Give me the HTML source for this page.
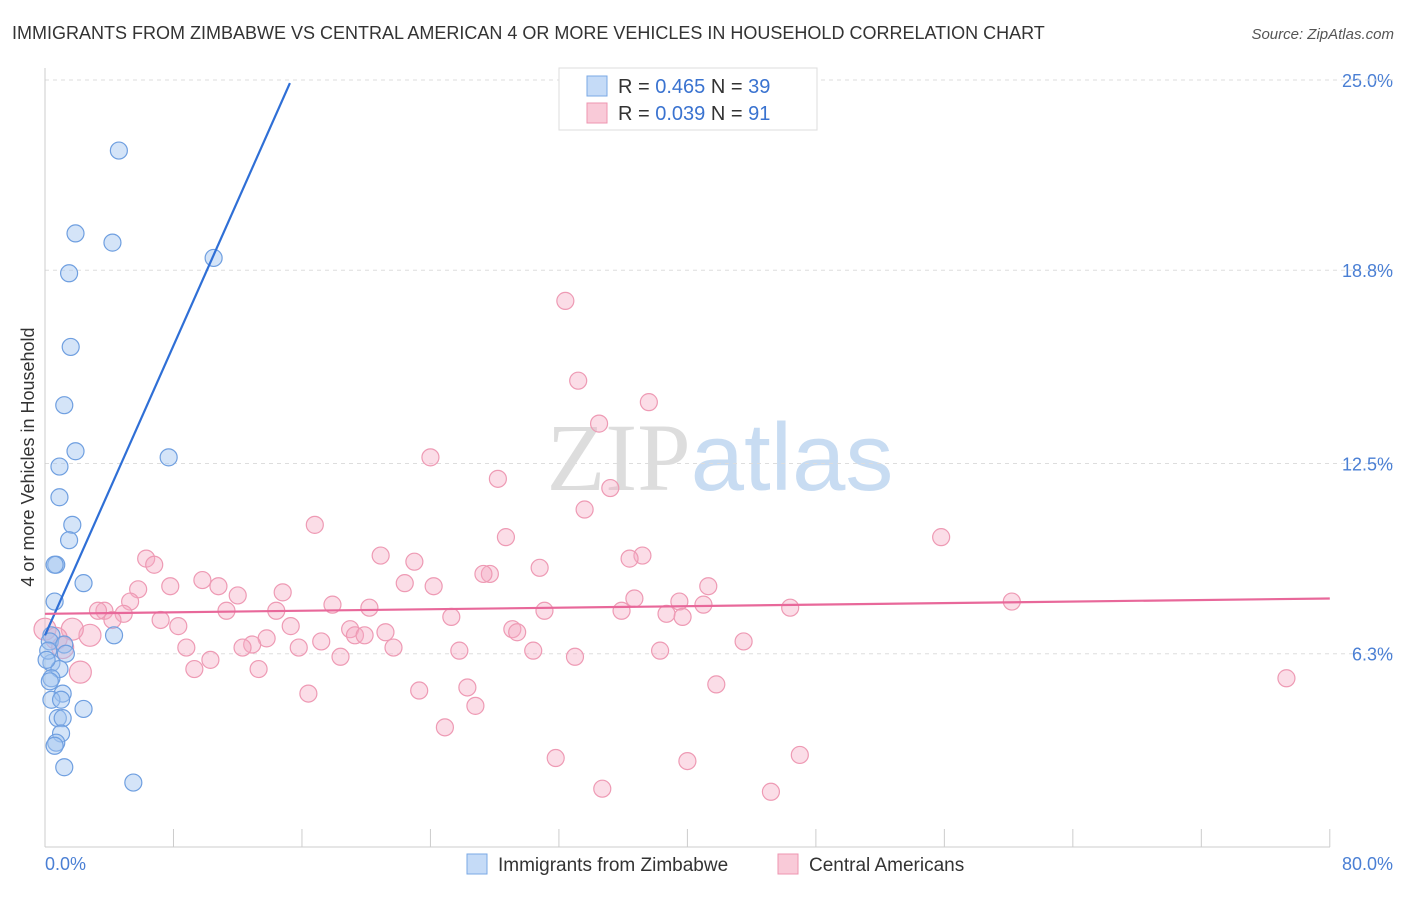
<!DOCTYPE html>
<html><head><meta charset="utf-8"><style>
body{margin:0;background:#fff;font-family:"Liberation Sans",sans-serif}
</style></head><body>
<svg width="1406" height="892" xmlns="http://www.w3.org/2000/svg" font-family="Liberation Sans, sans-serif">
<text x="12" y="39" font-size="18" fill="#333">IMMIGRANTS FROM ZIMBABWE VS CENTRAL AMERICAN 4 OR MORE VEHICLES IN HOUSEHOLD CORRELATION CHART</text>
<text x="1394" y="39" font-size="15" fill="#555" text-anchor="end" font-style="italic">Source: ZipAtlas.com</text>
<text x="720" y="490" font-size="96" text-anchor="middle"><tspan fill="#ddd" font-family="Liberation Serif, serif">ZIP</tspan><tspan fill="#c8dcf2">atlas</tspan></text>
<g id="grid"></g>
<line x1="45" y1="68" x2="45" y2="847" stroke="#ccc"/>
<line x1="45" y1="847" x2="1330" y2="847" stroke="#ccc"/>
<g id="ticks"></g>
<text transform="translate(34,457) rotate(-90)" font-size="18" fill="#333" text-anchor="middle">4 or more Vehicles in Household</text>
<text x="45" y="870" font-size="18" fill="#4a7fd4">0.0%</text>
<text x="1393" y="870" font-size="18" fill="#4a7fd4" text-anchor="end">80.0%</text>
<g id="pts"></g>
<g id="lines"></g>
<g>
<rect x="559" y="68" width="258" height="62" fill="#fff" stroke="#ddd"/>
<rect x="587" y="76" width="20" height="20" fill="#c5dbf7" stroke="#7aa8e6"/>
<rect x="587" y="103" width="20" height="20" fill="#f9cad8" stroke="#ee95b0"/>
<text x="618" y="93" font-size="20" fill="#333">R = <tspan fill="#3a73d0">0.465</tspan>   N = <tspan fill="#3a73d0">39</tspan></text>
<text x="618" y="120" font-size="20" fill="#333">R = <tspan fill="#3a73d0">0.039</tspan>   N =  <tspan fill="#3a73d0">91</tspan></text>
</g>
<g>
<rect x="467" y="854" width="20" height="20" fill="#c5dbf7" stroke="#7aa8e6"/>
<text x="498" y="871" font-size="19" fill="#333">Immigrants from Zimbabwe</text>
<rect x="778" y="854" width="20" height="20" fill="#f9cad8" stroke="#ee95b0"/>
<text x="809" y="871" font-size="19" fill="#333">Central Americans</text>
</g>
</svg>
<script>
const yTicks=[6.3,12.5,18.8,25.0];
const yTickLabels=["6.3%","12.5%","18.8%","25.0%"];
const blueX=[4.6,1.9,4.2,1.5,10.5,1.6,1.2,1.9,7.7,0.9,0.9,1.7,1.5,0.7,0.6,2.4,0.6,0.4,4.3,0.3,1.2,1.3,0.4,0.9,0.4,0.3,1.1,0.4,1.0,2.4,0.8,1.1,1.0,0.7,0.6,1.2,5.5,0.2,0.1];
const blueY=[22.7,20.0,19.7,18.7,19.2,16.3,14.4,12.9,12.7,12.4,11.4,10.5,10.0,9.2,9.2,8.6,8.0,6.9,6.9,6.7,6.6,6.3,6.0,5.8,5.5,5.4,5.0,4.8,4.8,4.5,4.2,4.2,3.7,3.4,3.3,2.6,2.1,6.4,6.1];
const pinkX=[32.4,33.2,37.6,34.5,24.0,28.2,35.2,33.6,16.8,55.8,28.7,20.9,37.2,36.4,6.3,6.8,23.0,30.8,27.7,27.3,22.4,9.8,41.3,24.2,10.8,7.8,5.8,14.8,12.0,5.3,36.7,39.5,60.2,41.0,17.9,20.2,3.7,3.3,4.9,31.1,11.3,35.9,14.4,46.4,25.3,38.7,39.7,4.2,7.2,8.3,15.3,19.0,21.2,19.3,29.1,19.9,29.4,17.2,13.8,2.8,1.7,0.0,0.7,8.8,12.9,12.3,15.8,21.7,25.8,30.4,38.3,43.5,18.4,10.3,33.0,9.3,13.3,2.2,16.4,23.3,26.3,41.8,26.8,77.3,24.9,31.8,47.0,40.0,34.7,45.2,1.1];
const pinkY=[17.8,15.2,14.5,13.8,12.7,12.0,11.7,11.0,10.5,10.1,10.1,9.5,9.5,9.4,9.4,9.2,9.3,9.1,8.9,8.9,8.6,8.7,8.5,8.5,8.5,8.5,8.4,8.3,8.2,8.0,8.1,8.0,8.0,7.9,7.9,7.8,7.7,7.7,7.6,7.7,7.7,7.7,7.7,7.8,7.5,7.6,7.5,7.4,7.4,7.2,7.2,7.1,7.0,6.9,7.1,6.9,7.0,6.7,6.8,6.9,7.1,7.1,6.8,6.5,6.6,6.5,6.5,6.5,6.4,6.4,6.4,6.7,6.2,6.1,6.2,5.8,5.8,5.7,5.0,5.1,5.2,5.3,4.6,5.5,3.9,2.9,3.0,2.8,1.9,1.8,6.5];
const blueLine=[[0,6.9],[15.25,24.9]];
const pinkLine=[[0,7.6],[80,8.1]];
const X=v=>45+v*16.06, Y=v=>847-v*30.68;
const NS="http://www.w3.org/2000/svg";
function mk(t,a,p){const e=document.createElementNS(NS,t);for(const k in a)e.setAttribute(k,a[k]);document.getElementById(p).appendChild(e);return e;}
yTicks.forEach((t,i)=>{
 const l=mk('line',{x1:45,x2:1395,y1:Y(t),y2:Y(t),stroke:'#ddd','stroke-dasharray':'4,4'},'grid');
 
 
 const tx=mk('text',{x:1393,y:Y(t)+7,'font-size':18,fill:'#4a7fd4','text-anchor':'end'},'grid');
 tx.textContent=yTickLabels[i];
 
 
});
const gl=mk('line',{x1:45,x2:1395,y1:Y(25),y2:Y(25),stroke:'#ddd','stroke-dasharray':'4,4'},'grid');
for(let i=1;i<=10;i++){
 const t=mk('line',{x1:X(i*8),x2:X(i*8),y1:829,y2:847,stroke:'#ccc'},'ticks');
 
 
}
pinkX.forEach((x,i)=>{
 const c=mk('circle',{cx:X(x),cy:Y(pinkY[i]),r:i>=57&&x<3?11:8.5,fill:'rgba(246,170,195,0.4)',stroke:'#ee9ab4','stroke-width':1.2},'pts');
 
 
});
blueX.forEach((x,i)=>{
 const c=mk('circle',{cx:X(x),cy:Y(blueY[i]),r:8.5,fill:'rgba(160,196,240,0.45)',stroke:'#6f9fe0','stroke-width':1.2},'pts');
 
 
});
const bl=mk('line',{x1:X(blueLine[0][0]),y1:Y(blueLine[0][1]),x2:X(blueLine[1][0]),y2:Y(blueLine[1][1]),stroke:'#2f6fd6','stroke-width':2.2},'lines');


const pl=mk('line',{x1:X(pinkLine[0][0]),y1:Y(pinkLine[0][1]),x2:X(pinkLine[1][0]),y2:Y(pinkLine[1][1]),stroke:'#e8689a','stroke-width':2.2},'lines');


</script>
</body></html>
